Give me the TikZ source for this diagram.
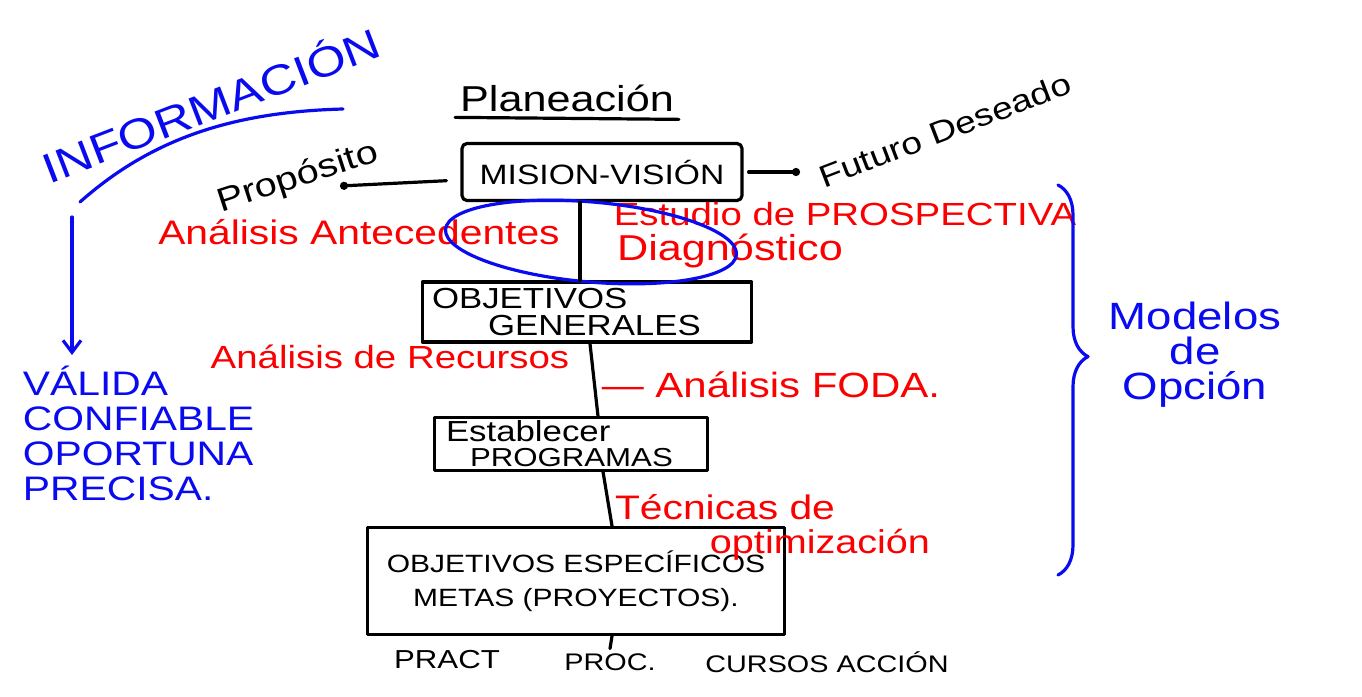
\documentclass[tikz,border=0pt]{standalone}
\usepackage{fontspec}
\setmainfont[FakeStretch=1.2]{Liberation Sans}
\usepackage{tikz}
\usetikzlibrary{positioning,calc,shapes.geometric,decorations.pathreplacing}
\usetikzlibrary{arrows.meta}
\definecolor{penred}{RGB}{250,0,0}
\definecolor{penblue}{RGB}{10,10,240}
\newcommand{\sz}[2]{\fontsize{#1}{#2}\selectfont}

\begin{document}
\begin{tikzpicture}[x=1pt, y=-1pt, line width=3.2pt, line cap=round, line join=round]
	\useasboundingbox (0,0) rectangle (1362,696);
	\node[font=\sz{36}{40}] (plan) at (567,98) {Planeación};
	\draw ([yshift=-1pt]plan.south west) -- ([yshift=-3pt]plan.south east);
	\begin{scope}[every node/.style={draw, inner sep=3pt}, align = center]
	    \node[minimum width=280pt, minimum height=57pt, rounded corners=5pt, font=\sz{28}{30}] (mision) at (602,172) {MISION-VISIÓN};
	    \node[minimum width=329pt, minimum height=60pt, text width=310pt, font=\sz{29}{27}, align=left] (ogen) at (587,312) {OBJETIVOS\\\hspace*{56pt}GENERALES};
	    \node[minimum width=273pt, minimum height=52pt, text width=250pt, font=\sz{26}{25}, align=left] (prog) at (571,444) {{\sz{29}{25}Establecer}\\\hspace*{24pt}PROGRAMAS};
	    \node[minimum width=417pt, minimum height=107pt, font=\sz{25}{34}] (oesp) at (576,581) {OBJETIVOS ESPECÍFICOS\\METAS (PROYECTOS).};
	\end{scope}
	\node[font=\sz{33}{36}, rotate=18] (prop) at (298,178) {Propósito};
	\node[font=\sz{31}{34}, rotate=21] (futuro) at (945,130) {Futuro Deseado};
	\coordinate (propdot) at (340,186);
	\coordinate (futdot) at (800,172);
	\draw [-{Circle[length=8pt]}, shorten <=14pt] ([yshift=-8pt]mision.west) -- (propdot);
	\draw [-{Circle[length=8pt]}, shorten <=5pt] (mision.east) -- (futdot);

	\begin{scope}[every node/.style={text=penred}]
	    \node[font=\sz{34}{36}] (antec) at (359,232) {Análisis Antecedentes};
	    \node[font=\sz{32}{36}] (prosp) at (845,214) {Estudio de PROSPECTIVA};
	    \node[font=\sz{36}{36}] (diagn) at (730,251) {Diagnóstico};
	    \node[font=\sz{32}{36}] (recur) at (390,357) {Análisis de Recursos};
	    \node[font=\sz{35}{36}] (foda) at (771,385) {— Análisis FODA.};
	    \node[font=\sz{34}{36}] (tecn) at (725,507) {Técnicas de};
	    \node[font=\sz{33}{36}] (optim) at (820,545) {optimización};
	\end{scope}
	\node[draw=penblue, ellipse, minimum width=292pt, minimum height=80pt, rotate=-5] (circ) at (591,242) {};

	\node[text=penblue, font=\sz{42}{48}, rotate=21] (info) at (210,103) {INFORMACIÓN};
	\draw [penblue] (80,202) .. controls (150,140) and (230,112) .. (343,109);
	\node[text=penblue, font=\sz{34}{35}, align=left, anchor=north west] (valida) at (18,361) {VÁLIDA\\CONFIABLE\\OPORTUNA\\PRECISA.};
	\coordinate (infoarrow) at (72,217);
	\draw [penblue, -{Straight Barb[length=12pt, width=18pt]}] (infoarrow) -- (infoarrow |- 0,355);
	\draw [penblue, decorate, decoration={brace, amplitude=30pt, aspect=0.44}] (1058,185) -- (1058,575);
	\node[text=penblue, font=\sz{38}{35}, align=center] (modelos) at (1195,355) {Modelos\\de\\Opción};

	\node[font=\sz{26}{28}] (pract) at (447,660) {PRACT};
	\node[font=\sz{24}{28}] (proc) at (610,662) {PROC.};
	\node[font=\sz{24}{28}] (cursos) at (827,662) {CURSOS ACCIÓN};

	\path ([xshift=-22pt]mision.south) edge ([xshift=-7pt]ogen.north);
	\path ([xshift=3pt]ogen.south) edge ([xshift=27pt]prog.north);
	\path ([xshift=32pt]prog.south) edge ([xshift=36pt]oesp.north);
	\path ([xshift=36pt]oesp.south) edge (proc.north);
\end{tikzpicture}
\end{document}
